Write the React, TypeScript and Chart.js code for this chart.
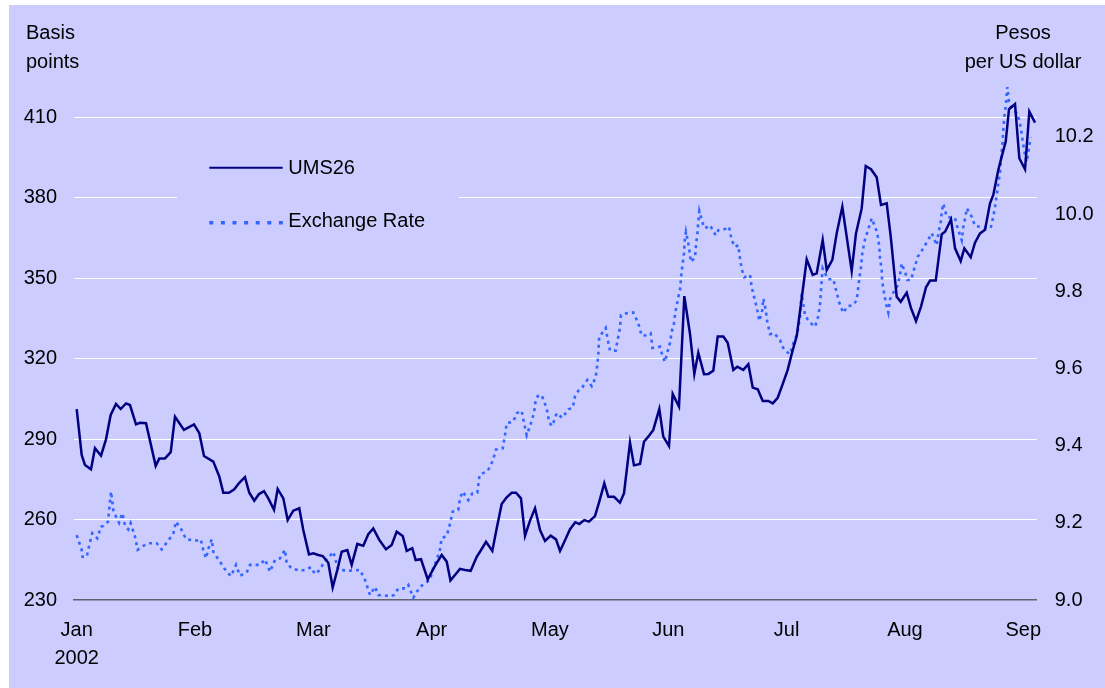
import React, { useEffect, useRef } from "react";
import { Chart, registerables } from "chart.js";

Chart.register(...registerables);

// ---- data (x = trading-day index from 2 Jan 2002) ----
const monthLabels = ["Jan", "Feb", "Mar", "Apr", "May", "Jun", "Jul", "Aug", "Sep"];
const monthTickDays = [0, 22, 44, 66, 88, 110, 132, 154, 176];
const leftTicks = [230, 260, 290, 320, 350, 380, 410];
const rightTicks = [9.0, 9.2, 9.4, 9.6, 9.8, 10.0, 10.2];

// UMS26 spread, basis points
const umsSeries: [number, number][] = [
  [0, 301.2], [0.93, 284.1], [1.54, 280.3], [2.66, 278.7], [3.4, 286.6], [4.52, 283.8], [5.45, 289.9], [6.32, 299.0],
  [7.31, 303.1], [8.18, 301.2], [9.17, 303.3], [9.91, 302.7], [11.03, 295.5], [11.77, 296.1], [12.89, 295.9], [14.69, 280.0],
  [15.36, 282.8], [16.42, 282.8], [17.48, 285.1], [18.28, 298.3], [19.95, 293.4], [21.81, 295.5], [22.8, 292.2], [23.67, 283.7],
  [25.4, 281.6], [26.52, 276.0], [27.26, 270.0], [28.32, 270.0], [29.3, 271.3], [30.23, 273.7], [31.29, 275.8], [32.09, 270.0],
  [33.02, 267.0], [33.9, 269.5], [34.83, 270.6], [35.63, 267.9], [36.69, 263.6], [37.37, 271.4], [38.42, 267.9], [39.23, 259.8],
  [40.28, 263.3], [41.39, 264.2], [42.13, 256.1], [43.19, 247.0], [43.99, 247.4], [44.92, 246.8], [45.74, 246.4], [46.78, 243.9],
  [47.6, 234.7], [48.46, 241.2], [49.27, 248.0], [50.32, 248.6], [51.13, 243.1], [52.18, 250.9], [53.29, 250.2], [54.22, 254.5],
  [55.15, 256.7], [56.26, 252.4], [57.51, 248.9], [58.57, 250.5], [59.5, 255.5], [60.62, 253.9], [61.36, 248.3], [62.4, 249.3],
  [63.03, 244.9], [64.02, 245.2], [65.27, 237.7], [66.62, 242.7], [67.87, 246.8], [68.8, 244.3], [69.5, 237.3], [70.34, 239.3],
  [71.27, 241.6], [72.2, 241.2], [73.26, 240.9], [74.38, 246.1], [74.99, 248.0], [76.11, 251.7], [77.28, 248.3], [78.09, 256.7],
  [79.02, 265.8], [79.95, 268.3], [80.88, 270.0], [81.68, 270.0], [82.61, 267.9], [83.36, 253.9], [84.29, 259.6], [85.22, 264.2],
  [86.15, 256.1], [87.08, 252.0], [88.14, 254.0], [89.12, 252.6], [89.87, 248.3], [90.67, 251.7], [91.73, 256.4], [92.71, 259.0],
  [93.45, 258.3], [94.38, 259.8], [95.26, 259.2], [96.37, 261.3], [97.17, 266.7], [98.1, 273.5], [98.85, 268.5], [99.91, 268.5],
  [101.02, 266.3], [101.77, 269.8], [102.88, 288.7], [103.62, 280.2], [104.74, 280.7], [105.48, 289.0], [106.28, 290.9], [107.21, 293.4],
  [108.33, 301.2], [109.07, 290.9], [110.13, 287.4], [110.82, 306.8], [111.99, 302.1], [112.98, 343.3], [114.04, 329.2], [114.84, 314.3],
  [115.58, 322.2], [116.64, 314.2], [117.44, 314.3], [118.37, 315.5], [119.19, 328.2], [120.23, 328.2], [121.05, 325.9], [122.09, 315.8],
  [122.83, 317.0], [123.95, 315.8], [124.88, 317.9], [125.7, 309.2], [126.63, 308.6], [127.56, 304.2], [128.6, 304.2], [129.42, 303.3],
  [130.34, 305.4], [131.27, 310.5], [132.2, 315.8], [133.06, 322.6], [133.88, 328.4], [134.81, 342.5], [135.74, 357.0], [136.85, 351.2],
  [137.6, 351.8], [138.71, 364.2], [139.46, 353.0], [140.5, 356.8], [141.31, 366.7], [142.36, 376.6], [143.17, 365.5], [144.1, 352.7],
  [144.9, 366.7], [145.96, 376.0], [146.71, 391.8], [147.69, 390.6], [148.75, 387.6], [149.55, 377.3], [150.61, 377.9], [151.36, 365.5],
  [152.47, 343.1], [153.22, 341.2], [154.33, 344.6], [155.13, 338.8], [156.06, 334.0], [156.99, 339.4], [157.92, 346.6], [158.67, 349.1],
  [159.73, 349.1], [160.84, 366.4], [161.46, 367.3], [162.57, 371.9], [163.32, 361.1], [164.37, 356.4], [165.04, 361.1], [166.23, 357.8],
  [167.03, 363.2], [167.96, 366.7], [168.89, 368.0], [169.82, 377.9], [170.43, 381.0], [171.36, 390.3], [171.99, 395.3], [172.74, 400.9],
  [173.35, 413.0], [174.47, 414.9], [175.27, 394.7], [176.33, 390.6], [177.13, 412.1], [178.19, 408.0],
];

// Exchange rate, pesos per US dollar
const fxSeries: [number, number][] = [
  [0, 9.168], [0.93, 9.13], [1.08, 9.112], [1.86, 9.112], [2.34, 9.142], [2.9, 9.173], [3.83, 9.16], [4.52, 9.19],
  [4.95, 9.192], [5.82, 9.203], [6.38, 9.281], [6.81, 9.233], [7.25, 9.218], [7.87, 9.2], [8.48, 9.225], [8.98, 9.194],
  [9.59, 9.183], [10.04, 9.199], [10.84, 9.164], [11.34, 9.13], [12.09, 9.138], [13.31, 9.147], [14.88, 9.147], [15.8, 9.131],
  [16.85, 9.151], [17.96, 9.171], [18.46, 9.203], [19.52, 9.181], [20.32, 9.158], [21.38, 9.155], [22.31, 9.154], [23.06, 9.157],
  [23.54, 9.13], [24.04, 9.108], [24.6, 9.138], [25.1, 9.157], [25.4, 9.125], [26.65, 9.099], [27.89, 9.073], [28.69, 9.062],
  [29.62, 9.091], [30.36, 9.063], [31.61, 9.071], [32.22, 9.091], [34.08, 9.091], [35.01, 9.105], [35.94, 9.073], [36.87, 9.104],
  [37.8, 9.108], [38.73, 9.13], [39.05, 9.095], [39.98, 9.082], [41.52, 9.076], [42.45, 9.078], [43.57, 9.085], [44.31, 9.067],
  [45.24, 9.078], [45.98, 9.099], [47.1, 9.114], [47.71, 9.125], [48.64, 9.078], [50.82, 9.076], [52.68, 9.078], [53.61, 9.052],
  [54.54, 9.013], [55.47, 9.034], [56.08, 9.013], [57.64, 9.011], [58.26, 9.009], [59.0, 9.013], [59.8, 9.03], [61.05, 9.03],
  [61.66, 9.039], [62.59, 9.006], [63.83, 9.034], [65.69, 9.052], [66.19, 9.078], [66.94, 9.104], [67.55, 9.131], [67.87, 9.16],
  [68.8, 9.166], [69.41, 9.197], [69.91, 9.229], [70.95, 9.233], [71.27, 9.263], [71.77, 9.281], [72.81, 9.259], [73.56, 9.276],
  [74.49, 9.278], [74.9, 9.324], [76.44, 9.335], [77.35, 9.36], [77.97, 9.39], [79.21, 9.393], [79.64, 9.427], [79.95, 9.458],
  [81.18, 9.462], [81.81, 9.484], [82.74, 9.49], [83.17, 9.459], [83.67, 9.427], [84.42, 9.456], [85.03, 9.485], [85.35, 9.518],
  [85.72, 9.528], [86.46, 9.531], [87.39, 9.496], [87.88, 9.459], [88.43, 9.451], [89.25, 9.484], [90.29, 9.472], [91.41, 9.494],
  [92.23, 9.498], [92.65, 9.527], [93.27, 9.542], [94.01, 9.551], [94.94, 9.57], [95.76, 9.554], [96.5, 9.577], [96.8, 9.609],
  [96.99, 9.637], [97.15, 9.681], [98.36, 9.705], [98.73, 9.675], [99.16, 9.646], [100.22, 9.646], [100.59, 9.675], [101.02, 9.705],
  [101.2, 9.738], [102.26, 9.743], [103.49, 9.745], [104.42, 9.717], [105.05, 9.685], [105.85, 9.686], [106.73, 9.691], [107.06, 9.653],
  [108.46, 9.656], [108.96, 9.63], [109.39, 9.617], [109.89, 9.645], [110.32, 9.666], [110.63, 9.695], [111.06, 9.717], [111.3, 9.745],
  [111.75, 9.777], [112.18, 9.805], [112.49, 9.852], [112.92, 9.898], [113.05, 9.931], [113.29, 9.954], [113.72, 9.924], [114.04, 9.895],
  [114.17, 9.876], [114.97, 9.887], [115.15, 9.919], [115.4, 9.948], [115.58, 9.98], [115.77, 10.008], [116.4, 9.976], [116.83, 9.963],
  [117.76, 9.971], [118.82, 9.945], [119.3, 9.958], [120.54, 9.961], [121.29, 9.967], [121.79, 9.932], [122.4, 9.915], [123.02, 9.919],
  [123.34, 9.885], [123.65, 9.857], [124.14, 9.836], [125.2, 9.842], [125.51, 9.811], [125.94, 9.786], [126.44, 9.758], [126.93, 9.723],
  [127.48, 9.751], [127.67, 9.781], [128.12, 9.751], [128.41, 9.721], [128.92, 9.689], [129.66, 9.692], [130.78, 9.673], [131.52, 9.648],
  [132.64, 9.637], [133.25, 9.665], [134.0, 9.691], [134.5, 9.734], [134.62, 9.764], [134.81, 9.794], [135.43, 9.736], [136.36, 9.719],
  [137.29, 9.708], [137.9, 9.736], [138.22, 9.768], [138.53, 9.829], [138.71, 9.859], [139.14, 9.846], [139.76, 9.831], [140.69, 9.831],
  [141.19, 9.803], [141.8, 9.77], [142.54, 9.744], [143.29, 9.761], [144.4, 9.764], [145.04, 9.777], [145.52, 9.833], [145.83, 9.863],
  [146.07, 9.898], [146.57, 9.934], [147.08, 9.956], [147.82, 9.989], [148.62, 9.96], [148.94, 9.943], [149.24, 9.915], [149.37, 9.885],
  [149.68, 9.855], [149.74, 9.829], [150.11, 9.796], [150.48, 9.768], [150.91, 9.745], [151.23, 9.779], [151.73, 9.794], [152.58, 9.813],
  [153.08, 9.842], [153.4, 9.872], [154.2, 9.842], [154.44, 9.829], [155.13, 9.829], [155.74, 9.859], [156.38, 9.889], [157.23, 9.907],
  [158.24, 9.931], [158.98, 9.95], [159.91, 9.919], [160.21, 9.948], [160.65, 9.98], [160.9, 10.01], [161.14, 10.027], [161.77, 9.993],
  [162.7, 9.99], [163.32, 9.989], [163.81, 9.963], [164.56, 9.932], [164.86, 9.967], [165.3, 9.997], [165.49, 10.015], [166.42, 9.993],
  [167.03, 9.969], [167.96, 9.967], [169.08, 9.964], [169.95, 9.964], [170.43, 9.993], [170.75, 10.019], [171.06, 10.049], [171.36, 10.079],
  [171.68, 10.109], [171.99, 10.161], [172.18, 10.189], [172.29, 10.219], [172.48, 10.252], [172.74, 10.279], [172.92, 10.308], [173.04, 10.329],
  [173.35, 10.291], [173.85, 10.274], [174.78, 10.261], [175.27, 10.243], [175.71, 10.209], [176.01, 10.178], [176.33, 10.153], [176.64, 10.135],
  [176.94, 10.161], [177.39, 10.198],
];

const BG = "#CCCCFF";
const NAVY = "#000080";
const BLUE = "#3366FF";
const FONT = "'Liberation Sans', Arial, Helvetica, sans-serif";
const W = 1096;
const H = 683;

export default function App() {
  const ref = useRef<HTMLCanvasElement>(null);

  useEffect(() => {
    const canvas = ref.current;
    if (!canvas) return;

    const overlay = {
      id: "overlay",
      afterDraw(chart: any) {
        const ctx = chart.ctx as CanvasRenderingContext2D;
        ctx.save();
        ctx.fillStyle = "#000";
        ctx.font = `20px ${FONT}`;
        ctx.textBaseline = "alphabetic";
        ctx.textAlign = "left";
        ctx.fillText("Basis", 17, 34);
        ctx.fillText("points", 17, 63.3);
        ctx.textAlign = "center";
        ctx.fillText("Pesos", 1014, 34);
        ctx.fillText("per US dollar", 1014, 63.3);

        // legend box
        ctx.fillStyle = BG;
        ctx.fillRect(168, 126, 282, 118);
        ctx.lineWidth = 2;
        ctx.strokeStyle = NAVY;
        ctx.beginPath();
        ctx.moveTo(200.3, 162.7);
        ctx.lineTo(273.7, 162.7);
        ctx.stroke();
        ctx.strokeStyle = BLUE;
        ctx.lineWidth = 3.5;
        ctx.setLineDash([4, 7.6]);
        ctx.beginPath();
        ctx.moveTo(200.3, 217.7);
        ctx.lineTo(274, 217.7);
        ctx.stroke();
        ctx.setLineDash([]);
        ctx.fillStyle = "#000";
        ctx.textAlign = "left";
        ctx.fillText("UMS26", 279.3, 169);
        ctx.fillText("Exchange Rate", 279.3, 222.3);
        ctx.restore();
      },
    };

    const chart = new Chart(canvas, {
      type: "line",
      data: {
        datasets: [
          {
            label: "UMS26",
            data: umsSeries.map(([x, y]) => ({ x, y })),
            borderColor: NAVY,
            borderWidth: 2.5,
            pointRadius: 0,
            tension: 0,
            yAxisID: "y",
          },
          {
            label: "Exchange Rate",
            data: fxSeries.map(([x, y]) => ({ x, y })),
            borderColor: BLUE,
            borderWidth: 2.6,
            borderDash: [3, 4],
            pointRadius: 0,
            tension: 0,
            yAxisID: "y1",
          },
        ],
      },
      options: {
        animation: false,
        responsive: false,
        events: [],
        layout: { padding: { top: 72, left: 0, right: 0, bottom: 0 } },
        plugins: {
          legend: { display: false },
          tooltip: { enabled: false },
          title: { display: false },
        },
        scales: {
          x: {
            type: "linear",
            min: -0.5,
            max: 178.5,
            grid: { display: false, drawTicks: false },
            border: { display: true, color: "#606070", width: 1.5 },
            afterBuildTicks: (scale: any) => {
              scale.ticks = monthTickDays.map((v) => ({ value: v }));
            },
            afterFit: (scale: any) => {
              scale.height = 88;
            },
            ticks: {
              autoSkip: false,
              maxRotation: 0,
              minRotation: 0,
              padding: 16,
              color: "#000",
              font: { family: FONT, size: 20, lineHeight: 1.4 },
              callback: (value: any) => {
                const i = monthTickDays.indexOf(Number(value));
                if (i < 0) return "";
                return i === 0 ? [monthLabels[0], "2002"] : monthLabels[i];
              },
            },
          },
          y: {
            type: "linear",
            position: "left",
            min: 230,
            max: 425,
            grid: {
              drawTicks: false,
              lineWidth: 1,
              color: (c: any) => (c.tick && c.tick.value === 230 ? "rgba(0,0,0,0)" : "#FFFFFF"),
            },
            border: { display: false },
            afterBuildTicks: (scale: any) => {
              scale.ticks = leftTicks.map((v) => ({ value: v }));
            },
            afterFit: (scale: any) => {
              scale.width = 65;
            },
            ticks: {
              padding: 17,
              color: "#000",
              font: { family: FONT, size: 20 },
              callback: (v: any) => String(v),
            },
          },
          y1: {
            type: "linear",
            position: "right",
            min: 9.0,
            max: 10.355,
            grid: { display: false, drawTicks: false },
            border: { display: false },
            afterBuildTicks: (scale: any) => {
              scale.ticks = rightTicks.map((v) => ({ value: v }));
            },
            afterFit: (scale: any) => {
              scale.width = 68.3;
            },
            ticks: {
              padding: 18,
              color: "#000",
              font: { family: FONT, size: 20 },
              callback: (v: any) => Number(v).toFixed(1),
            },
          },
        },
      },
      plugins: [overlay],
    } as any);

    return () => {
      chart.destroy();
    };
  }, []);

  return (
    <div
      style={{
        position: "absolute",
        left: 9,
        top: 5,
        width: W,
        height: H,
        background: BG,
        overflow: "hidden",
      }}
    >
      <canvas ref={ref} width={W} height={H} style={{ display: "block", width: W, height: H }} />
    </div>
  );
}
